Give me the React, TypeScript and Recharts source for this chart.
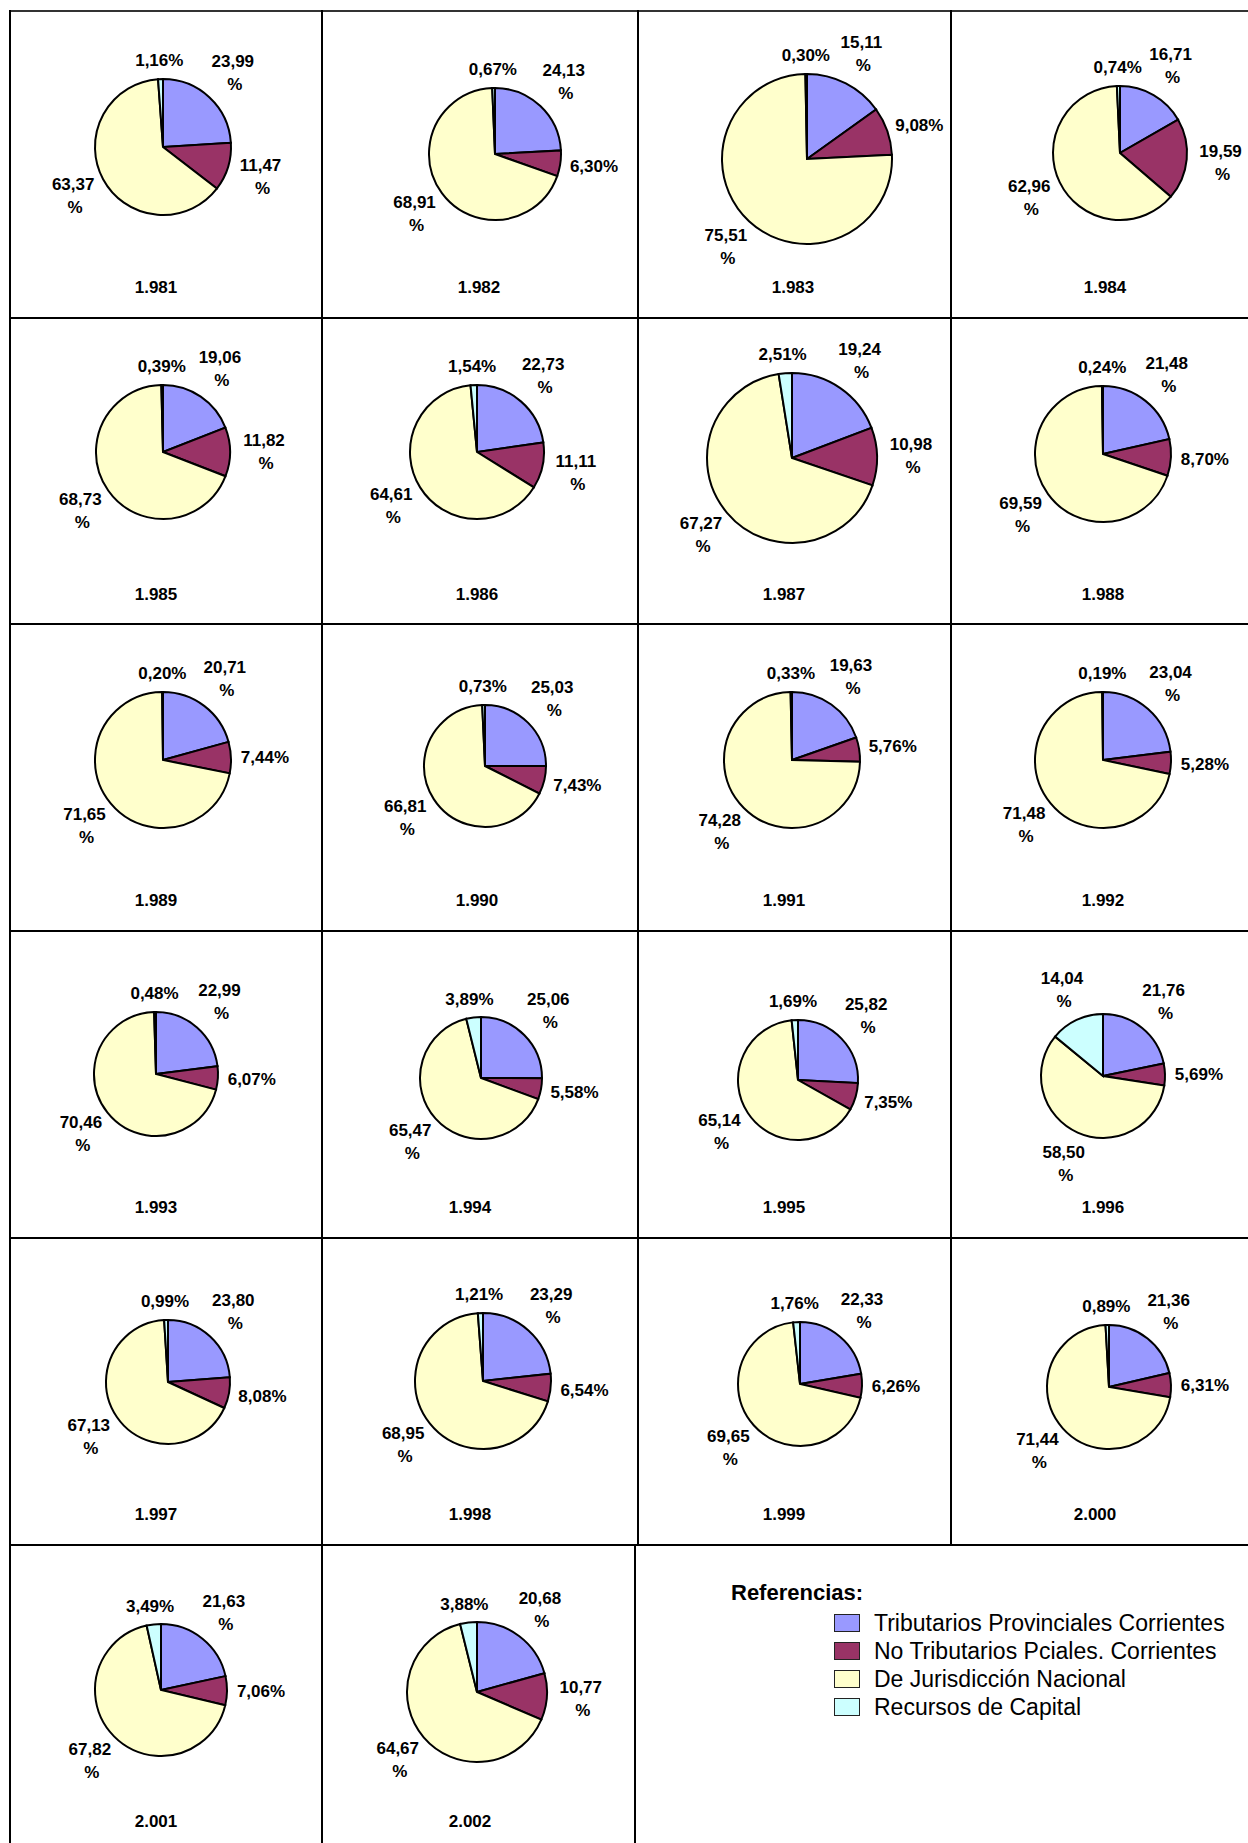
import React from 'react';
import { PieChart, Pie, Cell } from 'recharts';

// ---- Data ----
const years = [
  '1.981', '1.982', '1.983', '1.984',
  '1.985', '1.986', '1.987', '1.988',
  '1.989', '1.990', '1.991', '1.992',
  '1.993', '1.994', '1.995', '1.996',
  '1.997', '1.998', '1.999', '2.000',
  '2.001', '2.002',
];

const seriesNames = [
  'Tributarios Provinciales Corrientes',
  'No Tributarios Pciales. Corrientes',
  'De Jurisdicción Nacional',
  'Recursos de Capital',
];

const tributarios = [
  23.99, 24.13, 15.11, 16.71,
  19.06, 22.73, 19.24, 21.48,
  20.71, 25.03, 19.63, 23.04,
  22.99, 25.06, 25.82, 21.76,
  23.8, 23.29, 22.33, 21.36,
  21.63, 20.68,
];

const noTributarios = [
  11.47, 6.3, 9.08, 19.59,
  11.82, 11.11, 10.98, 8.7,
  7.44, 7.43, 5.76, 5.28,
  6.07, 5.58, 7.35, 5.69,
  8.08, 6.54, 6.26, 6.31,
  7.06, 10.77,
];

const jurisdiccion = [
  63.37, 68.91, 75.51, 62.96,
  68.73, 64.61, 67.27, 69.59,
  71.65, 66.81, 74.28, 71.48,
  70.46, 65.47, 65.14, 58.5,
  67.13, 68.95, 69.65, 71.44,
  67.82, 64.67,
];

const capital = [
  1.16, 0.67, 0.3, 0.74,
  0.39, 1.54, 2.51, 0.24,
  0.2, 0.73, 0.33, 0.19,
  0.48, 3.89, 1.69, 14.04,
  0.99, 1.21, 1.76, 0.89,
  3.49, 3.88,
];

// ---- Styles / layout ----
const COLORS = ['#9999FF', '#993366', '#FFFFCC', '#CCFFFF'];
const FONT = '"Liberation Sans", Arial, Helvetica, sans-serif';

const COL_X = [9, 321, 637, 950];
const COL_W = [312, 316, 313, 298];
const ROW_Y = [10, 317, 623, 930, 1237, 1544];
const ROW_H = 306;

// per chart: pie center (relative to cell), radius, year label x (page)
const PIE_LAYOUT = [
  { cx: 154, cy: 137, r: 68, lx: 156 },
  { cx: 174, cy: 144, r: 66, lx: 479 },
  { cx: 170, cy: 149, r: 85, lx: 793 },
  { cx: 170, cy: 143, r: 67, lx: 1105 },
  { cx: 154, cy: 135, r: 67, lx: 156 },
  { cx: 156, cy: 135, r: 67, lx: 477 },
  { cx: 155, cy: 141, r: 85, lx: 784 },
  { cx: 153, cy: 137, r: 68, lx: 1103 },
  { cx: 154, cy: 137, r: 68, lx: 156 },
  { cx: 164, cy: 143, r: 61, lx: 477 },
  { cx: 155, cy: 137, r: 68, lx: 784 },
  { cx: 153, cy: 137, r: 68, lx: 1103 },
  { cx: 147, cy: 144, r: 62, lx: 156 },
  { cx: 160, cy: 148, r: 61, lx: 470 },
  { cx: 161, cy: 150, r: 60, lx: 784 },
  { cx: 153, cy: 146, r: 62, lx: 1103 },
  { cx: 159, cy: 145, r: 62, lx: 156 },
  { cx: 162, cy: 144, r: 68, lx: 470 },
  { cx: 163, cy: 147, r: 62, lx: 784 },
  { cx: 159, cy: 150, r: 62, lx: 1095 },
  { cx: 152, cy: 146, r: 66, lx: 156 },
  { cx: 156, cy: 148, r: 70, lx: 470 },
];

const RAD = Math.PI / 180;
const fmt = (v: number) => v.toFixed(2).replace('.', ',');

function renderLabel(props: any) {
  const { cx, cy, midAngle, outerRadius, value } = props;
  const c = Math.cos(midAngle * RAD);
  const s = Math.sin(midAngle * RAD);
  const two = value >= 10;
  const w = two ? 44 : 48;
  const h = two ? 44 : 18;
  const gap = two ? 12 : 10;
  const ax = cx + (outerRadius + gap) * c;
  const ay = cy - (outerRadius + gap) * s;
  const bx = ax + (c * w) / 2;
  const by = ay - (s * h) / 2;
  const common = {
    fontFamily: FONT,
    fontWeight: 700,
    fontSize: 17,
    fill: '#000',
    textAnchor: 'middle' as const,
  };
  if (two) {
    return (
      <text x={bx} y={by - 5.5} {...common}>
        <tspan x={bx} y={by - 5.5}>{fmt(value)}</tspan>
        <tspan x={bx + 2} y={by + 17.5}>%</tspan>
      </text>
    );
  }
  return (
    <text x={bx} y={by + 6} {...common}>
      {fmt(value) + '%'}
    </text>
  );
}

function YearPie({ i }: { i: number }) {
  const col = i % 4;
  const row = Math.floor(i / 4);
  const L = PIE_LAYOUT[i];
  const data = [
    { name: seriesNames[0], value: tributarios[i] },
    { name: seriesNames[1], value: noTributarios[i] },
    { name: seriesNames[2], value: jurisdiccion[i] },
    { name: seriesNames[3], value: capital[i] },
  ];
  return (
    <>
      <div style={{ position: 'absolute', left: COL_X[col], top: ROW_Y[row] }}>
        <PieChart width={COL_W[col]} height={ROW_H} margin={{ top: 0, right: 0, bottom: 0, left: 0 }}>
          <Pie
            data={data}
            dataKey="value"
            nameKey="name"
            cx={L.cx}
            cy={L.cy}
            outerRadius={L.r}
            startAngle={90}
            endAngle={-270}
            stroke="#000"
            strokeWidth={2}
            label={renderLabel}
            labelLine={false}
            isAnimationActive={false}
          >
            {data.map((d, k) => (
              <Cell key={k} fill={COLORS[k]} stroke="#000" strokeWidth={2} />
            ))}
          </Pie>
        </PieChart>
      </div>
      <div
        style={{
          position: 'absolute',
          left: L.lx - 60,
          width: 120,
          top: ROW_Y[row] + 267,
          height: 22,
          lineHeight: '22px',
          textAlign: 'center',
          fontFamily: FONT,
          fontWeight: 700,
          fontSize: 17,
          color: '#000',
        }}
      >
        {years[i]}
      </div>
    </>
  );
}

function Line({ x, y, w, h, color = '#000' }: { x: number; y: number; w: number; h: number; color?: string }) {
  return <div style={{ position: 'absolute', left: x, top: y, width: w, height: h, background: color }} />;
}

export default function App() {
  const lines: React.ReactNode[] = [];
  ROW_Y.forEach((y, k) => {
    lines.push(<Line key={'h' + k} x={9} y={y} w={1248 - 9} h={2} color={k === 0 ? '#333' : '#000'} />);
  });
  [9, 321, 637, 950].forEach((x, k) => {
    lines.push(<Line key={'v' + k} x={x} y={10} w={2} h={1544 - 10} />);
  });
  [9, 321, 634].forEach((x, k) => {
    lines.push(<Line key={'vb' + k} x={x} y={1544} w={2} h={1843 - 1544} />);
  });

  return (
    <div style={{ position: 'absolute', left: 0, top: 0, width: 1248, height: 1843, background: '#fff', overflow: 'hidden' }}>
      {lines}
      {years.map((_, i) => (
        <YearPie key={i} i={i} />
      ))}
      <div
        style={{
          position: 'absolute',
          left: 731,
          top: 1580,
          fontFamily: FONT,
          fontWeight: 700,
          fontSize: 22,
          lineHeight: '26px',
          color: '#000',
        }}
      >
        Referencias:
      </div>
      {seriesNames.map((n, k) => (
        <div
          key={n}
          style={{
            position: 'absolute',
            left: 834,
            top: 1609 + k * 28,
            height: 28,
            display: 'flex',
            alignItems: 'center',
            fontFamily: FONT,
            fontSize: 23,
            color: '#000',
            whiteSpace: 'nowrap',
          }}
        >
          <span
            style={{
              display: 'inline-block',
              width: 24,
              height: 16,
              background: COLORS[k],
              border: '1.5px solid #222',
              marginRight: 14,
            }}
          />
          {n}
        </div>
      ))}
    </div>
  );
}
